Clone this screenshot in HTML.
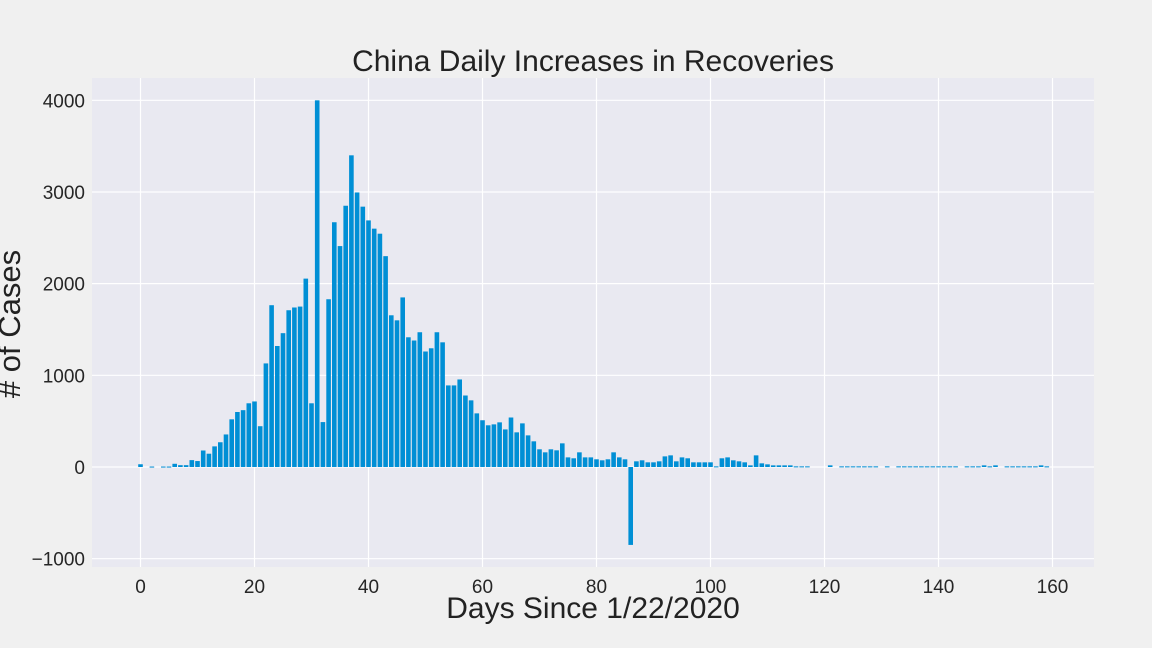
<!DOCTYPE html>
<html><head><meta charset="utf-8"><style>
body{margin:0;background:#f0f0f0;}
svg{display:block;font-family:"Liberation Sans",sans-serif;}
</style></head><body>
<svg id="chart" width="1152" height="648">
<rect x="0" y="0" width="1152" height="648" fill="#f0f0f0"/>
<rect x="92" y="78" width="1002" height="489" fill="#e9e9f1"/>
<g id="grid"></g><g id="bars"></g><g id="ticks"></g>
<text x="593" y="71" font-size="30" text-anchor="middle" fill="#222">China Daily Increases in Recoveries</text>
<text x="593" y="618" font-size="30" text-anchor="middle" fill="#222">Days Since 1/22/2020</text>
<text transform="translate(20,324) rotate(-90)" font-size="31" text-anchor="middle" fill="#222"># of Cases</text>
</svg>
<script>
const days = Array.from({length:160},(_, i)=>i);
const recoveries = [30,0,5,0,5,5,35,20,20,75,65,180,145,225,270,355,520,600,620,695,715,445,1130,1765,1320,1460,1710,1740,1750,2055,
695,4000,490,1830,2670,2410,2850,3400,2995,2840,2690,2600,2545,2300,1655,1600,1850,1415,1380,1470,1260,1295,1470,1360,890,890,955,780,727,585,
510,455,465,487,410,540,378,476,345,280,193,160,193,182,258,105,95,160,105,105,84,73,84,160,105,84,-850,62,73,51,
51,62,116,127,62,105,95,51,51,51,51,7,95,105,73,62,51,18,127,40,29,18,18,18,18,7,7,7,0,0,0,18,0,7,7,7,
7,7,7,7,0,7,0,7,7,7,7,7,7,7,7,7,7,7,0,7,7,7,18,7,18,0,7,7,7,7,7,7,18,7];
const xTicks = [0,20,40,60,80,100,120,140,160];
const yTicks = [-1000,0,1000,2000,3000,4000];
const NS="http://www.w3.org/2000/svg";
const xs = d => 140.5 + d*5.7;
const ys = v => 467 - v*0.09167;
const grid=document.getElementById('grid'), bars=document.getElementById('bars'), ticks=document.getElementById('ticks');
xTicks.forEach(t=>{
  const l=document.createElementNS(NS,'line');
  l.setAttribute('x1',xs(t));l.setAttribute('x2',xs(t));l.setAttribute('y1',78);l.setAttribute('y2',567);
  l.setAttribute('stroke','#fff');l.setAttribute('stroke-width','1.2');
  
  
  grid.appendChild(l);
  const tx=document.createElementNS(NS,'text');
  tx.setAttribute('x',xs(t));tx.setAttribute('y',593);tx.setAttribute('text-anchor','middle');tx.setAttribute('font-size','19');tx.setAttribute('fill','#262626');
  tx.textContent=t;
  
  
  ticks.appendChild(tx);
});
yTicks.forEach(t=>{
  const l=document.createElementNS(NS,'line');
  l.setAttribute('x1',92);l.setAttribute('x2',1094);l.setAttribute('y1',ys(t));l.setAttribute('y2',ys(t));
  l.setAttribute('stroke','#fff');l.setAttribute('stroke-width','1.2');
  
  
  grid.appendChild(l);
  const tx=document.createElementNS(NS,'text');
  tx.setAttribute('x',85);tx.setAttribute('y',ys(t)+7);tx.setAttribute('text-anchor','end');tx.setAttribute('font-size','19');tx.setAttribute('fill','#262626');
  tx.textContent=(t<0?'\u2212':'')+Math.abs(t);
  
  
  ticks.appendChild(tx);
});
days.forEach((d,i)=>{
  const v=recoveries[i]; if(!v) return;
  const r=document.createElementNS(NS,'rect');
  const y0=ys(0), y1=ys(v);
  r.setAttribute('x',xs(d)-2.3);r.setAttribute('width',4.6);
  r.setAttribute('y',Math.min(y0,y1));r.setAttribute('height',Math.max(1,Math.abs(y1-y0)));
  r.setAttribute('fill','#008fd5');
  
  
  bars.appendChild(r);
});
</script>
</body></html>
